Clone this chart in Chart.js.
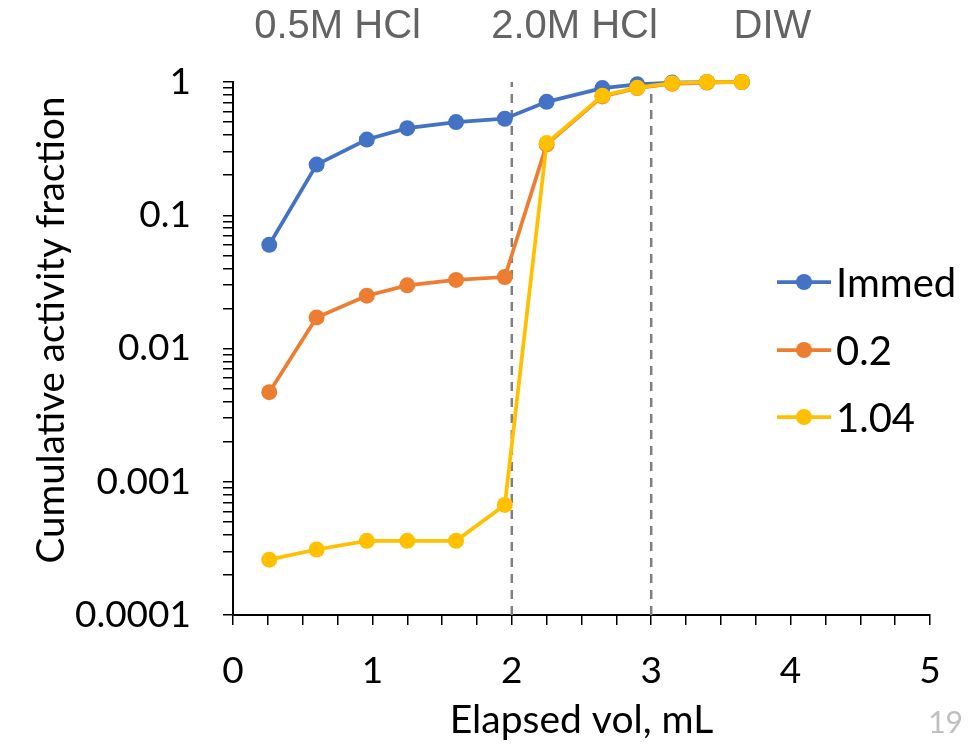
<!DOCTYPE html>
<html>
<head>
<meta charset="utf-8">
<script src="https://cdn.jsdelivr.net/npm/chart.js@4"></script>
<style>
  html, body { margin: 0; padding: 0; background: #fff; }
</style>
</head>
<body>
<canvas id="chart" width="975" height="749"></canvas>
<script>
// Data ---
const elapsedVol = [0.26, 0.6, 0.96, 1.25, 1.6, 1.95, 2.25, 2.65, 2.9, 3.15, 3.4, 3.65];
const immedFrac  = [0.06, 0.24, 0.37, 0.45, 0.50, 0.53, 0.71, 0.90, 0.96, 0.99, 1.0, 1.0];
const frac02     = [0.0047, 0.0171, 0.0249, 0.0298, 0.0327, 0.0344, 0.34, 0.78, 0.90, 0.97, 0.99, 1.0];
const frac104    = [0.00026, 0.00031, 0.00036, 0.00036, 0.00036, 0.00067, 0.348, 0.79, 0.906, 0.98, 1.0, 1.0];
const seriesLabels = ['Immed', '0.2', '1.04'];

const yTickValues = [0.0001, 0.001, 0.01, 0.1, 1];
const yTickLabels = ['0.0001', '0.001', '0.01', '0.1', '1'];
const xTickLabels = ['0', '1', '2', '3', '4', '5'];

const boundaryVols = [2, 3];
const phaseLabels = ['0.5M HCl', '2.0M HCl', 'DIW'];
const phaseLabelVols = [0.75, 2.45, 3.87];

const colors = ['#4472C4', '#ED7D31', '#FFC000'];
const FONT = 'Lato';

function toPoints(ys) {
    return ys.map((y, i) => ({x: elapsedVol[i], y: y}));
}

function seriesDataset(label, ys, color, order) {
    return {
        label: label,
        data: toPoints(ys),
        borderColor: color,
        backgroundColor: color,
        borderWidth: 3.75,
        pointRadius: 8,
        pointBorderWidth: 0,
        pointBackgroundColor: color,
        tension: 0,
        clip: false,
        order: order
    };
}

let datasets = [
    seriesDataset(seriesLabels[0], immedFrac, colors[0], 2),
    seriesDataset(seriesLabels[1], frac02, colors[1], 1),
    seriesDataset(seriesLabels[2], frac104, colors[2], 0)
];
boundaryVols.forEach(function(v) {
    datasets.push({
        label: 'boundary',
        data: [{x: v, y: yTickValues[0]}, {x: v, y: yTickValues[yTickValues.length - 1]}],
        borderColor: '#7f7f7f',
        borderWidth: 2.5,
        borderDash: [9, 7],
        pointRadius: 0,
        order: 5
    });
});

// Legend, phase labels, y title, page number
const decorPlugin = {
    id: 'decor',
    afterDraw(chart) {
        const ctx = chart.ctx;
        const xs = chart.scales.x;
        ctx.save();

        // phase labels above the plot
        ctx.fillStyle = '#636363';
        ctx.font = '40px "Liberation Sans"';
        ctx.textAlign = 'center';
        ctx.textBaseline = 'middle';
        phaseLabels.forEach(function(t, i) {
            ctx.fillText(t, xs.getPixelForValue(phaseLabelVols[i]), 27);
        });

        // legend
        const legendY = [282, 350, 417];
        ctx.textAlign = 'left';
        ctx.font = '40px ' + FONT;
        for (let i = 0; i < 3; i++) {
            ctx.strokeStyle = colors[i];
            ctx.lineWidth = 3.75;
            ctx.beginPath();
            ctx.moveTo(777, legendY[i]);
            ctx.lineTo(831, legendY[i]);
            ctx.stroke();
            ctx.fillStyle = colors[i];
            ctx.beginPath();
            ctx.arc(804, legendY[i], 8, 0, Math.PI * 2);
            ctx.fill();
            ctx.fillStyle = '#000';
            ctx.fillText(seriesLabels[i], 836, legendY[i] + 2);
        }

        // y axis title
        ctx.save();
        ctx.translate(52, 330);
        ctx.rotate(-Math.PI / 2);
        ctx.textAlign = 'center';
        ctx.fillStyle = '#000';
        ctx.font = '38.5px ' + FONT;
        ctx.fillText('Cumulative activity fraction', 0, 0);
        ctx.restore();

        // slide number
        ctx.fillStyle = '#bfbfbf';
        ctx.font = '30px ' + FONT;
        ctx.textAlign = 'right';
        ctx.fillText('19', 963, 723);

        ctx.restore();
    }
};

let ctx = document.getElementById('chart').getContext('2d');
let chart = new Chart(ctx, {
    type: 'line',
    data: { datasets: datasets },
    plugins: [decorPlugin],
    options: {
        responsive: false,
        animation: false,
        devicePixelRatio: 1,
        layout: { padding: { top: 82, right: 45, left: 0, bottom: 0 } },
        plugins: {
            legend: { display: false },
            tooltip: { enabled: false }
        },
        scales: {
            x: {
                type: 'linear',
                min: 0,
                max: 5,
                afterBuildTicks: function(scale) {
                    let ticks = [];
                    for (let i = 0; i <= 20; i++) ticks.push({value: i / 4});
                    scale.ticks = ticks;
                },
                afterFit: function(scale) { scale.height = 134; },
                ticks: {
                    autoSkip: false,
                    maxRotation: 0,
                    padding: 24,
                    color: '#000',
                    font: { family: FONT, size: 37 },
                    callback: function(value) {
                        return Number.isInteger(value) ? xTickLabels[value] : '';
                    }
                },
                grid: { drawOnChartArea: false, drawTicks: true, tickLength: 10, color: '#000', lineWidth: 1.5 },
                border: { color: '#000', width: 2 },
                title: {
                    display: true,
                    text: 'Elapsed vol, mL',
                    color: '#000',
                    font: { family: FONT, size: 39 },
                    padding: { top: 0, bottom: 5 }
                }
            },
            y: {
                type: 'logarithmic',
                min: yTickValues[0],
                max: yTickValues[yTickValues.length - 1],
                afterBuildTicks: function(scale) {
                    let ticks = [];
                    yTickValues.forEach(function(v, i) {
                        if (i === yTickValues.length - 1) {
                            ticks.push({value: v});
                            return;
                        }
                        for (let k = 1; k <= 9; k++) ticks.push({value: v * k});
                    });
                    scale.ticks = ticks;
                },
                afterFit: function(scale) { scale.width = 233; },
                ticks: {
                    autoSkip: false,
                    padding: 32,
                    color: '#000',
                    font: { family: FONT, size: 37 },
                    callback: function(value) {
                        let idx = yTickValues.findIndex(v => Math.abs(v - value) / v < 1e-9);
                        return idx >= 0 ? yTickLabels[idx] : '';
                    }
                },
                grid: { drawOnChartArea: false, drawTicks: true, tickLength: 10, color: '#000', lineWidth: 1.5 },
                border: { color: '#000', width: 2 }
            }
        }
    }
});
</script>
</body>
</html>
